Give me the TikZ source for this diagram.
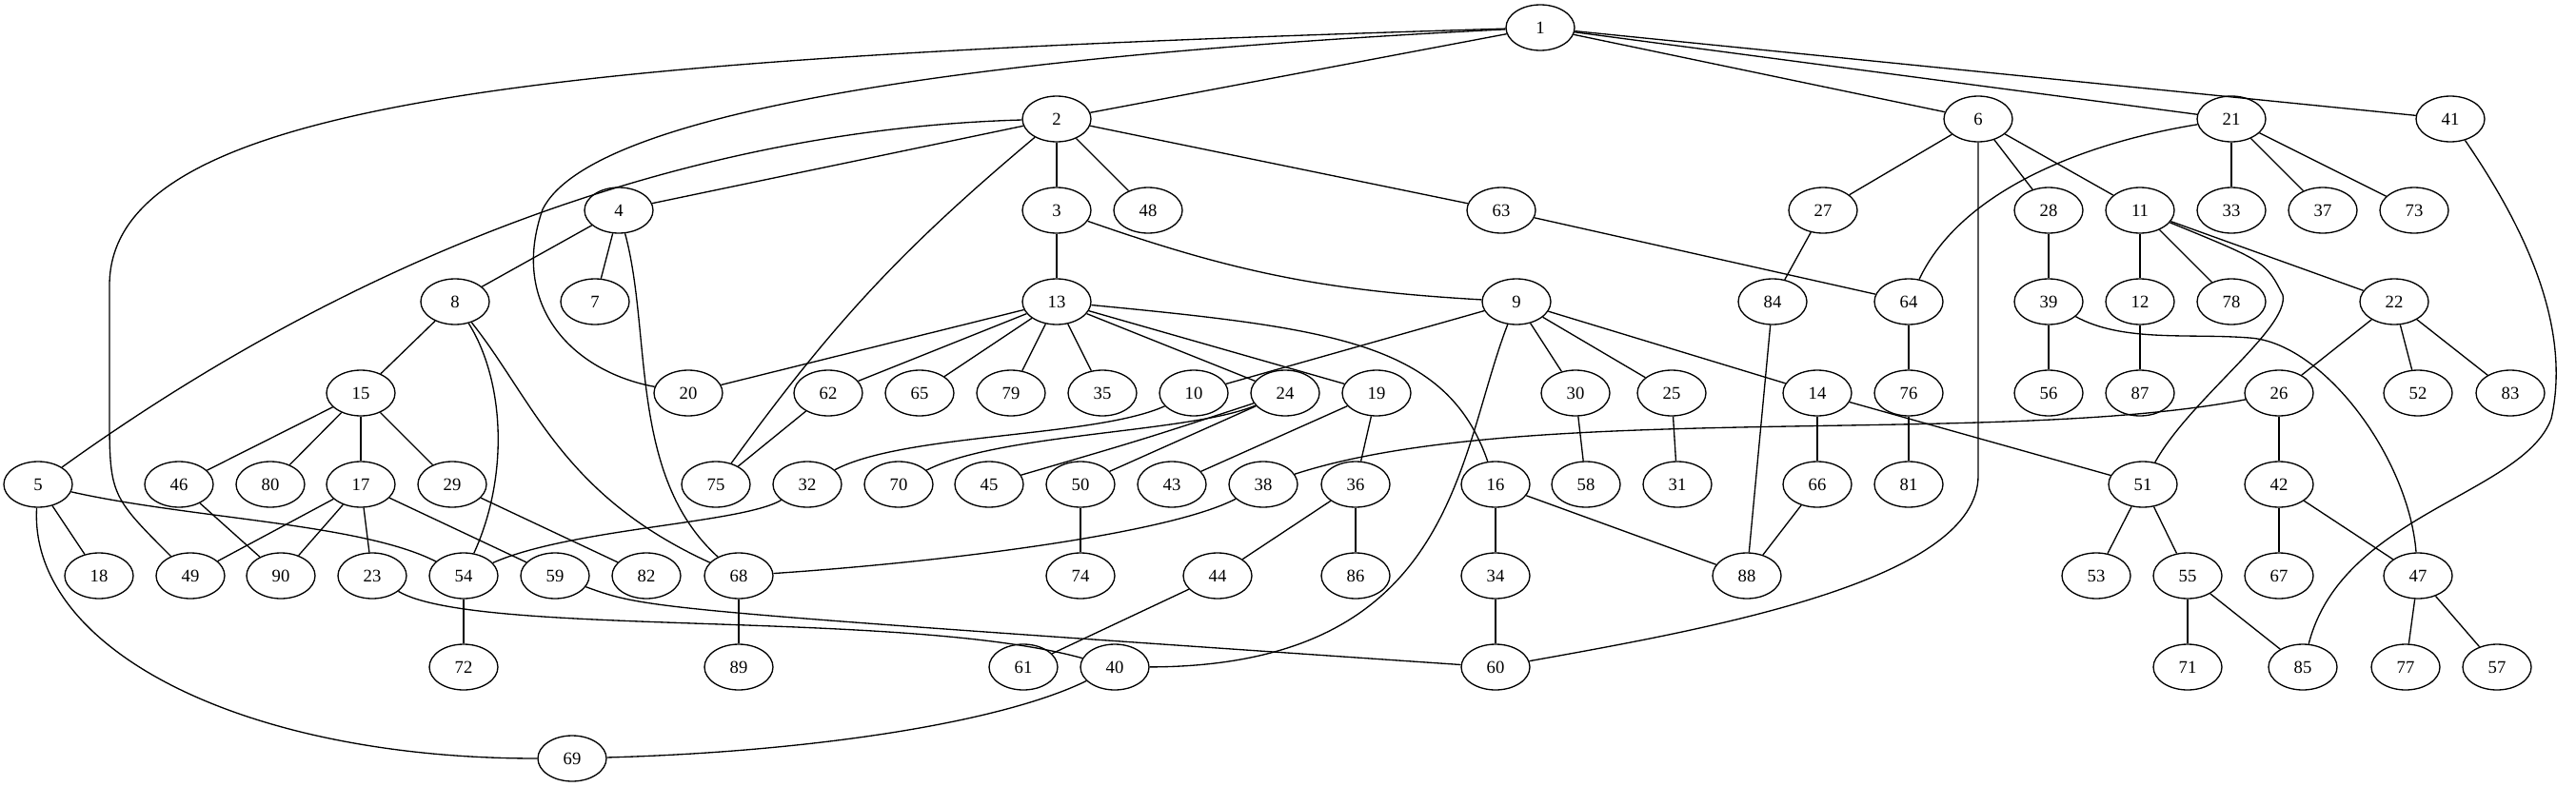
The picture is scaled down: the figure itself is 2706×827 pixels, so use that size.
\documentclass[tikz,border=0pt]{standalone}
\usepackage{fontspec}
\setmainfont{Liberation Serif}
\usepackage{tikz}
\usetikzlibrary{shapes.geometric}
\tikzstyle{vertex} = [draw,ellipse,line width=1.33pt,minimum width=72pt,minimum height=48pt,inner sep=0pt,font=\fontsize{18.67}{22}\selectfont]
\tikzstyle{edge} = [line width=1.33pt]

\begin{document}
\begin{tikzpicture}[x=1pt,y=-1pt]
\useasboundingbox (0,0) rectangle (2706,827);

\node (v1) [vertex] at (1618,29) {1};

\node (v2) [vertex] at (1110,125) {2};
\node (v6) [vertex] at (2078,125) {6};
\node (v21) [vertex] at (2344,125) {21};
\node (v41) [vertex] at (2574,125) {41};

\node (v4) [vertex] at (650,221) {4};
\node (v3) [vertex] at (1110,221) {3};
\node (v48) [vertex] at (1206,221) {48};
\node (v63) [vertex] at (1577,221) {63};
\node (v27) [vertex] at (1915,221) {27};
\node (v28) [vertex] at (2152,221) {28};
\node (v11) [vertex] at (2248,221) {11};
\node (v33) [vertex] at (2344,221) {33};
\node (v37) [vertex] at (2440,221) {37};
\node (v73) [vertex] at (2536,221) {73};

\node (v8) [vertex] at (478,317) {8};
\node (v7) [vertex] at (625,317) {7};
\node (v13) [vertex] at (1110,317) {13};
\node (v9) [vertex] at (1593,317) {9};
\node (v84) [vertex] at (1862,317) {84};
\node (v64) [vertex] at (2005,317) {64};
\node (v39) [vertex] at (2152,317) {39};
\node (v12) [vertex] at (2248,317) {12};
\node (v78) [vertex] at (2344,317) {78};
\node (v22) [vertex] at (2515,317) {22};

\node (v15) [vertex] at (379,413) {15};
\node (v20) [vertex] at (723,413) {20};
\node (v62) [vertex] at (870,413) {62};
\node (v65) [vertex] at (966,413) {65};
\node (v79) [vertex] at (1062,413) {79};
\node (v35) [vertex] at (1158,413) {35};
\node (v10) [vertex] at (1254,413) {10};
\node (v24) [vertex] at (1350,413) {24};
\node (v19) [vertex] at (1446,413) {19};
\node (v30) [vertex] at (1655,413) {30};
\node (v25) [vertex] at (1756,413) {25};
\node (v14) [vertex] at (1909,413) {14};
\node (v76) [vertex] at (2005,413) {76};
\node (v56) [vertex] at (2152,413) {56};
\node (v87) [vertex] at (2248,413) {87};
\node (v26) [vertex] at (2394,413) {26};
\node (v52) [vertex] at (2540,413) {52};
\node (v83) [vertex] at (2637,413) {83};

\node (v5) [vertex] at (40,509) {5};
\node (v46) [vertex] at (188,509) {46};
\node (v80) [vertex] at (284,509) {80};
\node (v17) [vertex] at (379,509) {17};
\node (v29) [vertex] at (475,509) {29};
\node (v75) [vertex] at (752,509) {75};
\node (v32) [vertex] at (848,509) {32};
\node (v70) [vertex] at (944,509) {70};
\node (v45) [vertex] at (1039,509) {45};
\node (v50) [vertex] at (1135,509) {50};
\node (v43) [vertex] at (1231,509) {43};
\node (v38) [vertex] at (1327,509) {38};
\node (v36) [vertex] at (1424,509) {36};
\node (v16) [vertex] at (1571,509) {16};
\node (v58) [vertex] at (1666,509) {58};
\node (v31) [vertex] at (1762,509) {31};
\node (v66) [vertex] at (1909,509) {66};
\node (v81) [vertex] at (2005,509) {81};
\node (v51) [vertex] at (2251,509) {51};
\node (v42) [vertex] at (2394,509) {42};

\node (v18) [vertex] at (104,605) {18};
\node (v49) [vertex] at (200,605) {49};
\node (v90) [vertex] at (295,605) {90};
\node (v23) [vertex] at (391,605) {23};
\node (v54) [vertex] at (487,605) {54};
\node (v59) [vertex] at (583,605) {59};
\node (v82) [vertex] at (679,605) {82};
\node (v68) [vertex] at (776,605) {68};
\node (v74) [vertex] at (1135,605) {74};
\node (v44) [vertex] at (1279,605) {44};
\node (v86) [vertex] at (1424,605) {86};
\node (v34) [vertex] at (1571,605) {34};
\node (v88) [vertex] at (1835,605) {88};
\node (v53) [vertex] at (2202,605) {53};
\node (v55) [vertex] at (2298,605) {55};
\node (v67) [vertex] at (2394,605) {67};
\node (v47) [vertex] at (2540,605) {47};

\node (v72) [vertex] at (487,701) {72};
\node (v89) [vertex] at (776,701) {89};
\node (v61) [vertex] at (1075,701) {61};
\node (v40) [vertex] at (1171,701) {40};
\node (v60) [vertex] at (1571,701) {60};
\node (v71) [vertex] at (2298,701) {71};
\node (v85) [vertex] at (2419,701) {85};
\node (v77) [vertex] at (2527,701) {77};
\node (v57) [vertex] at (2623,701) {57};

\node (v69) [vertex] at (601,797) {69};

\draw [edge] (v1) -- (v2);
\draw [edge] (v1) -- (v6);
\draw [edge] (v1) -- (v21);
\draw [edge] (v1) -- (v41);
\draw [edge] (v1) .. controls (600,60) and (115,100) .. (115,300) -- (115,430) .. controls (115,520) .. (v49);
\draw [edge] (v1) .. controls (1000,60) and (620,120) .. (570,220) .. controls (535,320) and (600,390) .. (v20);
\draw [edge] (v2) -- (v4);
\draw [edge] (v2) -- (v3);
\draw [edge] (v2) -- (v48);
\draw [edge] (v2) -- (v63);
\draw [edge] (v2) .. controls (750,135) and (400,250) .. (v5);
\draw [edge] (v2) to[bend right=7] (v75);
\draw [edge] (v3) -- (v13);
\draw [edge] (v3) to[bend right=8] (v9);
\draw [edge] (v4) -- (v8);
\draw [edge] (v4) -- (v7);
\draw [edge] (v4) .. controls (685,350) and (660,500) .. (v68);
\draw [edge] (v8) -- (v15);
\draw [edge] (v8) .. controls (530,400) and (535,500) .. (v54);
\draw [edge] (v8) .. controls (560,420) and (590,520) .. (v68);
\draw [edge] (v13) -- (v20);
\draw [edge] (v13) -- (v62);
\draw [edge] (v13) -- (v65);
\draw [edge] (v13) -- (v79);
\draw [edge] (v13) -- (v35);
\draw [edge] (v13) -- (v24);
\draw [edge] (v13) -- (v19);
\draw [edge] (v13) .. controls (1400,345) and (1520,360) .. (v16);
\draw [edge] (v9) -- (v10);
\draw [edge] (v9) -- (v30);
\draw [edge] (v9) -- (v25);
\draw [edge] (v9) -- (v14);
\draw [edge] (v9) .. controls (1530,480) and (1530,700) .. (v40);
\draw [edge] (v6) -- (v27);
\draw [edge] (v6) -- (v28);
\draw [edge] (v6) -- (v11);
\draw [edge] (v6) -- (2078,500) .. controls (2078,610) and (1800,660) .. (v60);
\draw [edge] (v21) .. controls (2190,150) and (2060,200) .. (v64);
\draw [edge] (v21) -- (v33);
\draw [edge] (v21) -- (v37);
\draw [edge] (v21) -- (v73);
\draw [edge] (v41) .. controls (2660,250) and (2700,350) .. (2680,440) .. controls (2650,520) and (2460,540) .. (v85);
\draw [edge] (v27) -- (v84);
\draw [edge] (v28) -- (v39);
\draw [edge] (v11) -- (v12);
\draw [edge] (v11) -- (v78);
\draw [edge] (v11) -- (v22);
\draw [edge] (v11) .. controls (2380,275) .. (2398,310) .. controls (2405,345) and (2300,420) .. (v51);
\draw [edge] (v63) -- (v64);
\draw [edge] (v64) -- (v76);
\draw [edge] (v39) -- (v56);
\draw [edge] (v39) .. controls (2230,360) and (2300,350) .. (2363,355) .. controls (2440,360) and (2530,480) .. (v47);
\draw [edge] (v12) -- (v87);
\draw [edge] (v22) -- (v26);
\draw [edge] (v22) -- (v52);
\draw [edge] (v22) -- (v83);
\draw [edge] (v15) -- (v46);
\draw [edge] (v15) -- (v80);
\draw [edge] (v15) -- (v17);
\draw [edge] (v15) -- (v29);
\draw [edge] (v62) -- (v75);
\draw [edge] (v10) .. controls (1150,460) and (950,455) .. (v32);
\draw [edge] (v24) .. controls (1250,455) and (1050,455) .. (v70);
\draw [edge] (v24) .. controls (1200,462) .. (v45);
\draw [edge] (v24) -- (v50);
\draw [edge] (v19) -- (v36);
\draw [edge] (v19) -- (v43);
\draw [edge] (v30) -- (v58);
\draw [edge] (v25) -- (v31);
\draw [edge] (v14) -- (v66);
\draw [edge] (v14) -- (v51);
\draw [edge] (v76) -- (v81);
\draw [edge] (v26) -- (v42);
\draw [edge] (v26) .. controls (2100,470) and (1600,420) .. (v38);
\draw [edge] (v5) -- (v18);
\draw [edge] (v5) .. controls (200,545) and (380,550) .. (v54);
\draw [edge] (v5) .. controls (30,680) and (250,797) .. (v69);
\draw [edge] (v46) -- (v90);
\draw [edge] (v17) -- (v49);
\draw [edge] (v17) -- (v90);
\draw [edge] (v17) -- (v23);
\draw [edge] (v17) -- (v59);
\draw [edge] (v29) -- (v82);
\draw [edge] (v32) .. controls (780,550) and (600,555) .. (v54);
\draw [edge] (v50) -- (v74);
\draw [edge] (v38) .. controls (1230,560) and (1000,590) .. (v68);
\draw [edge] (v36) -- (v44);
\draw [edge] (v36) -- (v86);
\draw [edge] (v16) -- (v34);
\draw [edge] (v16) -- (v88);
\draw [edge] (v66) -- (v88);
\draw [edge] (v84) -- (v88);
\draw [edge] (v51) -- (v53);
\draw [edge] (v51) -- (v55);
\draw [edge] (v42) -- (v67);
\draw [edge] (v42) -- (v47);
\draw [edge] (v54) -- (v72);
\draw [edge] (v68) -- (v89);
\draw [edge] (v44) -- (v61);
\draw [edge] (v34) -- (v60);
\draw [edge] (v55) -- (v71);
\draw [edge] (v55) -- (v85);
\draw [edge] (v47) -- (v77);
\draw [edge] (v47) -- (v57);
\draw [edge] (v23) .. controls (500,670) and (950,640) .. (v40);
\draw [edge] (v59) .. controls (680,640) .. (v60);
\draw [edge] (v69) .. controls (850,790) and (1050,760) .. (v40);

\end{tikzpicture}
\end{document}
